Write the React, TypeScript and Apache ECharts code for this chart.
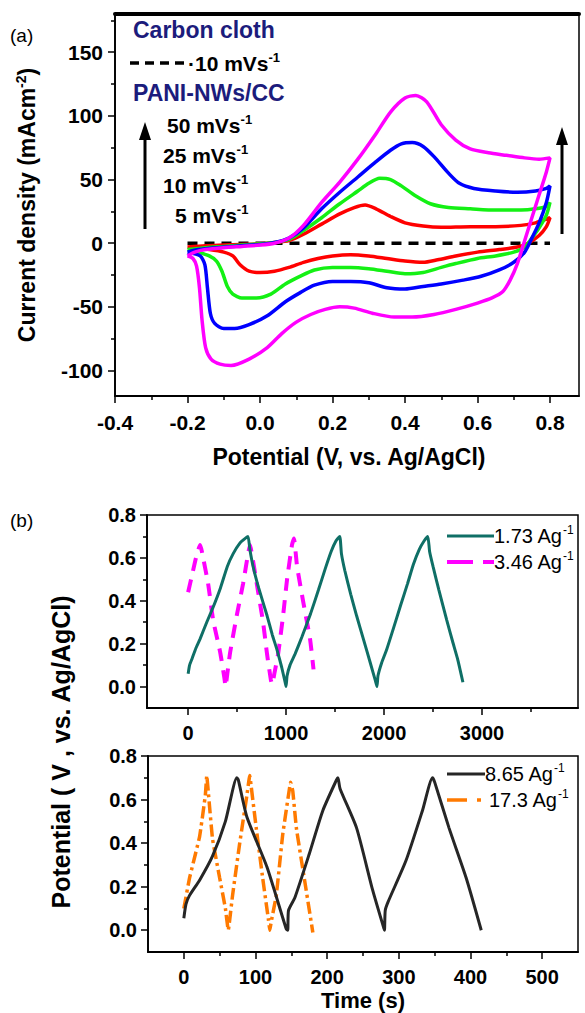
import React, { useEffect, useRef } from 'react';
import * as echarts from 'echarts';

const FONT = '"Liberation Sans", Arial, Helvetica, sans-serif';

// ---------- (a) Cyclic voltammetry: [potential V, current density mA/cm2] ----------
const cv5: number[][] = [
  [-0.2, -3], [-0.15, -2], [-0.1, -1.5], [-0.05, -1], [0, -0.5], [0.04, 0.5], [0.08, 2], [0.12, 7], [0.17, 15],
  [0.22, 23], [0.26, 28], [0.29, 30], [0.32, 27], [0.36, 21], [0.4, 16], [0.45, 13.5], [0.5, 12.5], [0.58, 13],
  [0.65, 13], [0.72, 14], [0.76, 16], [0.8, 20],
  [0.79, 13], [0.77, 6], [0.74, 0], [0.71, -3], [0.66, -5], [0.6, -7], [0.54, -10], [0.49, -13], [0.45, -15],
  [0.4, -14], [0.35, -12], [0.3, -10], [0.25, -9], [0.2, -10], [0.16, -12], [0.12, -15], [0.08, -19], [0.04, -22],
  [0.0, -23], [-0.03, -22], [-0.055, -17], [-0.075, -10], [-0.1, -7], [-0.14, -5], [-0.2, -3],
];
const cv10: number[][] = [
  [-0.2, -5], [-0.15, -3.5], [-0.1, -2.5], [-0.05, -1.5], [0, -0.5], [0.04, 0.5], [0.08, 3], [0.12, 10], [0.17, 20],
  [0.22, 31], [0.27, 41], [0.3, 47], [0.33, 51], [0.36, 50], [0.39, 45], [0.43, 37], [0.47, 31], [0.52, 28],
  [0.58, 27], [0.65, 26], [0.72, 26], [0.76, 27], [0.79, 29], [0.8, 32],
  [0.79, 22], [0.77, 12], [0.75, 4], [0.73, -3], [0.7, -7], [0.65, -10], [0.6, -12], [0.54, -16], [0.5, -19],
  [0.45, -23], [0.4, -24], [0.35, -22], [0.3, -20], [0.25, -19], [0.2, -19], [0.15, -21], [0.11, -26], [0.07, -32],
  [0.03, -40], [-0.01, -43], [-0.05, -43], [-0.075, -40], [-0.09, -34], [-0.105, -22], [-0.12, -14], [-0.14, -10],
  [-0.17, -7], [-0.2, -5],
];
const cv25: number[][] = [
  [-0.2, -7], [-0.17, -5], [-0.12, -3.5], [-0.05, -2], [0, -1], [0.04, 0.5], [0.08, 4], [0.12, 12], [0.17, 27],
  [0.22, 40], [0.27, 52], [0.32, 64], [0.36, 73], [0.39, 78], [0.42, 79], [0.45, 76], [0.48, 68], [0.52, 55],
  [0.55, 47], [0.59, 43], [0.65, 41], [0.71, 40], [0.76, 41], [0.79, 43], [0.8, 45],
  [0.79, 32], [0.77, 16], [0.75, 4], [0.73, -7], [0.7, -15], [0.66, -21], [0.61, -26], [0.56, -29], [0.5, -32],
  [0.45, -34], [0.4, -36], [0.35, -35], [0.3, -31], [0.25, -30], [0.2, -30], [0.15, -33], [0.11, -39], [0.07, -46],
  [0.02, -57], [-0.03, -64], [-0.07, -67], [-0.1, -67], [-0.125, -63], [-0.137, -55], [-0.145, -35], [-0.152, -17],
  [-0.165, -10], [-0.2, -7],
];
const cv50: number[][] = [
  [-0.2, -10], [-0.18, -7], [-0.15, -5], [-0.1, -3.5], [-0.05, -2.5], [0, -1.5], [0.04, 0], [0.08, 4], [0.12, 14],
  [0.17, 32], [0.22, 48], [0.27, 66], [0.32, 86], [0.36, 103], [0.4, 114], [0.43, 116], [0.46, 111], [0.5, 93],
  [0.54, 81], [0.58, 74], [0.63, 71], [0.68, 69], [0.73, 67], [0.77, 66], [0.8, 67],
  [0.79, 56], [0.77, 38], [0.75, 20], [0.73, 2], [0.71, -16], [0.69, -29], [0.67, -38], [0.64, -43], [0.6, -47],
  [0.54, -52], [0.48, -56], [0.42, -58], [0.37, -58], [0.31, -55], [0.26, -51], [0.22, -50], [0.18, -52], [0.14, -56],
  [0.1, -62], [0.06, -71], [0.02, -82], [-0.03, -91], [-0.08, -96], [-0.11, -95], [-0.135, -91], [-0.15, -82],
  [-0.16, -60], [-0.167, -35], [-0.175, -18], [-0.185, -12], [-0.2, -10],
];
const cvCarbon: number[][] = [[-0.2, 0], [0.8, 0]];

const aXLabels = [-0.4, -0.2, 0, 0.2, 0.4, 0.6, 0.8];
const aXMinor = [-0.3, -0.1, 0.1, 0.3, 0.5, 0.7];
const aYLabels = [-100, -50, 0, 50, 100, 150];
const aYMinor = [-75, -25, 25, 75, 125, 175];

// ---------- (b) Galvanostatic charge/discharge: [time s, potential V] ----------
const gcd173: number[][] = [
  [0, 0.06], [15, 0.1], [40, 0.13], [80, 0.18], [120, 0.22], [190, 0.3], [255, 0.37], [330, 0.46], [400, 0.56],
  [460, 0.62], [530, 0.67], [580, 0.69], [612, 0.7], [630, 0.64], [663, 0.56], [720, 0.46], [806, 0.33],
  [860, 0.24], [908, 0.17], [955, 0.09], [990, 0.02], [1000, 0.0],
  [1010, 0.05], [1040, 0.1], [1090, 0.15], [1160, 0.23], [1250, 0.34], [1330, 0.45], [1400, 0.55], [1460, 0.63],
  [1510, 0.68], [1548, 0.7], [1565, 0.62], [1600, 0.54], [1660, 0.43], [1720, 0.33], [1790, 0.22], [1860, 0.11],
  [1910, 0.03], [1928, 0.0],
  [1938, 0.05], [1975, 0.11], [2025, 0.17], [2095, 0.27], [2170, 0.38], [2240, 0.48], [2300, 0.57], [2360, 0.64],
  [2410, 0.68], [2447, 0.7], [2465, 0.63], [2500, 0.56], [2560, 0.45], [2640, 0.31], [2700, 0.21], [2750, 0.13],
  [2805, 0.02],
];
const gcd346: number[][] = [
  [0, 0.44], [40, 0.52], [80, 0.6], [122, 0.66], [140, 0.63], [204, 0.48], [255, 0.31], [327, 0.16], [370, 0.04],
  [382, 0.0], [400, 0.06], [429, 0.16], [500, 0.34], [561, 0.48], [612, 0.62], [632, 0.66], [650, 0.62], [704, 0.47],
  [765, 0.3], [806, 0.15], [845, 0.03], [858, 0.01], [880, 0.06], [918, 0.15], [969, 0.33], [1010, 0.5],
  [1060, 0.66], [1080, 0.69], [1112, 0.56], [1173, 0.4], [1245, 0.22], [1280, 0.08],
];
const gcd865: number[][] = [
  [0, 0.055], [3, 0.12], [8, 0.16], [22, 0.23], [40, 0.34], [58, 0.5], [74, 0.7], [76, 0.69], [88, 0.52],
  [116, 0.29], [143, 0.005], [145, 0.0], [146, 0.09], [155, 0.15], [175, 0.35], [194, 0.55], [213, 0.69],
  [215, 0.7], [218, 0.65], [241, 0.47], [263, 0.19], [279, 0.01], [280, 0.0], [281, 0.09], [285, 0.13],
  [310, 0.32], [333, 0.55], [347, 0.7], [350, 0.68], [370, 0.47], [394, 0.24], [415, 0.0],
];
const gcd1730: number[][] = [
  [0, 0.1], [8, 0.24], [22, 0.43], [30, 0.62], [32, 0.71], [34, 0.64], [40, 0.42], [50, 0.24], [58, 0.1],
  [62, 0.0], [63, 0.02], [68, 0.16], [78, 0.4], [88, 0.62], [92, 0.71], [94, 0.66], [101, 0.47], [110, 0.24],
  [118, 0.05], [120, 0.0], [122, 0.04], [129, 0.16], [138, 0.44], [146, 0.62], [149, 0.68], [152, 0.64],
  [157, 0.47], [168, 0.24], [180, -0.01],
];

const b1XLabels = [0, 1000, 2000, 3000];
const b1XMinor = [500, 1500, 2500, 3500];
const b2XLabels = [0, 100, 200, 300, 400, 500];
const b2XMinor = [50, 150, 250, 350, 450];
const bYLabels = [0, 0.2, 0.4, 0.6, 0.8];
const bYMinor = [0.1, 0.3, 0.5, 0.7];

const NAVY = '#1c1c7c';

function sup(main: string, s: string, size: number, weight: string, color = '#000', tail = '') {
  const rich: any = {
    m: { fontSize: size, fontWeight: weight, fontFamily: FONT, color, lineHeight: size + 4 },
    s: { fontSize: Math.round(size * 0.6), fontWeight: weight, fontFamily: FONT, color, verticalAlign: 'top', lineHeight: Math.round(size * 0.6) },
  };
  let text = `{m|${main}}{s|${s}}`;
  if (tail) text += `{m|${tail}}`;
  return { text, rich };
}

function majorAxis(gridIndex: number, position: string, min: number, max: number, labels: number[], fmt: (v: number) => string, margin: number, fontSize: number) {
  return {
    type: 'value', gridIndex, position, min, max,
    axisLine: { show: true, onZero: false, lineStyle: { color: '#000', width: 1.8 } },
    axisTick: { show: true, inside: false, length: 7, customValues: labels, lineStyle: { color: '#000', width: 1.5 } },
    axisLabel: { show: true, customValues: labels, formatter: fmt, margin, fontSize, fontWeight: 'bold', color: '#000', fontFamily: FONT },
    splitLine: { show: false },
  };
}
function minorAxis(gridIndex: number, position: string, min: number, max: number, ticks: number[]) {
  return {
    type: 'value', gridIndex, position, min, max,
    axisLine: { show: false, onZero: false },
    axisTick: { show: true, inside: false, length: 4, customValues: ticks, lineStyle: { color: '#000', width: 1.5 } },
    axisLabel: { show: false, customValues: ticks },
    splitLine: { show: false },
  };
}

const f1 = (v: number) => v.toFixed(1);
const f0 = (v: number) => String(Math.round(v));

export default function App() {
  const ref = useRef<HTMLDivElement>(null);
  useEffect(() => {
    document.body.style.margin = '0';
    if (!ref.current) return;
    const chart = echarts.init(ref.current, undefined, { renderer: 'svg' });

    const lineSeries = (x: number, y: number, data: number[][], color: string, width: number, type: any, smooth: number | boolean, z = 2) => ({
      type: 'line', xAxisIndex: x, yAxisIndex: y, data, showSymbol: false, symbol: 'none', smooth, silent: true, z,
      lineStyle: { color, width, type, cap: 'butt' }, itemStyle: { color },
    });

    const textEl = (x: number, y: number, t: any, align = 'left', rotation = 0) => ({
      type: 'text', x, y, rotation, silent: true,
      style: { text: t.text, rich: t.rich, align, verticalAlign: 'middle' },
    });
    const plain = (x: number, y: number, text: string, size: number, weight: string, color = '#000', align = 'left', rotation = 0) => ({
      type: 'text', x, y, rotation, silent: true,
      style: { text, fontSize: size, fontWeight: weight, fontFamily: FONT, fill: color, align, verticalAlign: 'middle' },
    });

    const option: any = {
      animation: false,
      textStyle: { fontFamily: FONT },
      grid: [
        { left: 115, top: 14, width: 464, height: 382, show: true, borderColor: '#000', borderWidth: 1.5, backgroundColor: 'transparent' },
        { left: 147, top: 515, width: 431, height: 193, show: true, borderColor: '#000', borderWidth: 1.5, backgroundColor: 'transparent' },
        { left: 148, top: 756, width: 430, height: 196, show: true, borderColor: '#000', borderWidth: 1.5, backgroundColor: 'transparent' },
      ],
      xAxis: [
        majorAxis(0, 'bottom', -0.4, 0.88, aXLabels, f1, 16, 21),
        minorAxis(0, 'bottom', -0.4, 0.88, aXMinor),
        {
          type: 'value', gridIndex: 0, position: 'top', min: -0.4, max: 0.88,
          axisLine: { show: true, onZero: false, lineStyle: { color: '#000', width: 4 } },
          axisTick: { show: false }, axisLabel: { show: false }, splitLine: { show: false },
        },
        majorAxis(1, 'bottom', -420, 3980, b1XLabels, f0, 15, 20),
        minorAxis(1, 'bottom', -420, 3980, b1XMinor),
        majorAxis(2, 'bottom', -50, 550, b2XLabels, f0, 15, 20),
        minorAxis(2, 'bottom', -50, 550, b2XMinor),
      ],
      yAxis: [
        majorAxis(0, 'left', -120, 180, aYLabels, f0, 12, 21),
        minorAxis(0, 'left', -120, 180, aYMinor),
        majorAxis(1, 'left', -0.1, 0.8, bYLabels, f1, 11, 20),
        minorAxis(1, 'left', -0.1, 0.8, bYMinor),
        majorAxis(2, 'left', -0.1, 0.8, bYLabels, f1, 11, 20),
        minorAxis(2, 'left', -0.1, 0.8, bYMinor),
      ],
      series: [
        lineSeries(0, 0, cvCarbon, '#000', 3.5, [10, 7], false, 1),
        lineSeries(0, 0, cv5, '#ff0000', 3.5, 'solid', 0.25, 2),
        lineSeries(0, 0, cv10, '#14f014', 3.5, 'solid', 0.25, 3),
        lineSeries(0, 0, cv25, '#0000ff', 3.5, 'solid', 0.25, 4),
        lineSeries(0, 0, cv50, '#ff00ff', 3.5, 'solid', 0.25, 5),
        lineSeries(3, 2, gcd173, '#0f6f66', 3, 'solid', 0.15, 3),
        lineSeries(3, 2, gcd346, '#ff00ff', 4, [13, 9], 0.15, 2),
        lineSeries(5, 4, gcd865, '#262626', 3, 'solid', 0.2, 3),
        lineSeries(5, 4, gcd1730, '#ff7a00', 3.5, [12, 4, 3, 4], 0.1, 2),
      ],
      graphic: [
        plain(10, 35, '(a)', 19, 'normal'),
        plain(10, 520, '(b)', 19, 'normal'),
        // (a) annotations
        plain(133, 30, 'Carbon cloth', 23, 'bold', NAVY),
        { type: 'line', silent: true, shape: { x1: 130, y1: 63, x2: 186, y2: 63 }, style: { stroke: '#000', lineWidth: 3.5, lineDash: [9, 6] } },
        textEl(188, 63, sup('·10 mVs', '-1', 21, 'bold')),
        plain(133, 93, 'PANI-NWs/CC', 23, 'bold', NAVY),
        textEl(167, 125, sup('50 mVs', '-1', 21, 'bold')),
        textEl(163, 155, sup('25 mVs', '-1', 21, 'bold')),
        textEl(163, 185, sup('10 mVs', '-1', 21, 'bold')),
        textEl(175, 215, sup('5 mVs', '-1', 21, 'bold')),
        { type: 'line', silent: true, shape: { x1: 145, y1: 229, x2: 145, y2: 136 }, style: { stroke: '#000', lineWidth: 3 } },
        { type: 'polygon', silent: true, shape: { points: [[145, 122], [139, 140], [151, 140]] }, style: { fill: '#000' } },
        { type: 'line', silent: true, shape: { x1: 562, y1: 234, x2: 562, y2: 141 }, style: { stroke: '#000', lineWidth: 3 } },
        { type: 'polygon', silent: true, shape: { points: [[562, 127], [556, 145], [568, 145]] }, style: { fill: '#000' } },
        // (a) axis titles
        plain(349, 457, 'Potential (V, vs. Ag/AgCl)', 23, 'bold', '#000', 'center'),
        textEl(27, 205, sup('Current density (mAcm', '-2', 23, 'bold', '#000', ')'), 'center', Math.PI / 2),
        // (b) legends
        { type: 'line', silent: true, shape: { x1: 447, y1: 536, x2: 494, y2: 536 }, style: { stroke: '#0f6f66', lineWidth: 3 } },
        textEl(494, 536, sup('1.73 Ag', '-1', 20, 'normal')),
        { type: 'line', silent: true, shape: { x1: 447, y1: 562, x2: 494, y2: 562 }, style: { stroke: '#ff00ff', lineWidth: 4, lineDash: [26, 10] } },
        textEl(494, 562, sup('3.46 Ag', '-1', 20, 'normal')),
        { type: 'line', silent: true, shape: { x1: 447, y1: 774, x2: 485, y2: 774 }, style: { stroke: '#262626', lineWidth: 3 } },
        textEl(485, 774, sup('8.65 Ag', '-1', 20, 'normal')),
        { type: 'line', silent: true, shape: { x1: 447, y1: 800, x2: 484, y2: 800 }, style: { stroke: '#ff7a00', lineWidth: 3.5, lineDash: [20, 10, 4, 10] } },
        textEl(489, 800, sup('17.3 Ag', '-1', 20, 'normal')),
        // (b) axis titles
        plain(61, 752, 'Potential ( V , vs. Ag/AgCl)', 25, 'bold', '#000', 'center', Math.PI / 2),
        plain(363, 1000, 'Time (s)', 22, 'bold', '#000', 'center'),
      ],
    };
    chart.setOption(option);
    return () => chart.dispose();
  }, []);
  return <div ref={ref} style={{ width: 585, height: 1013 }} />;
}
